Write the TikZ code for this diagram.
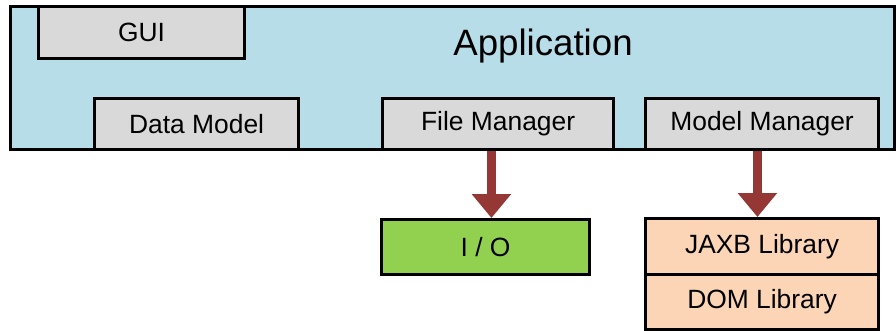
\documentclass[tikz,border=0pt]{standalone}
\usepackage{fontspec}
\setmainfont{Liberation Sans}
\usetikzlibrary{arrows.meta}

\definecolor{appblue}{HTML}{B7DDE8}
\definecolor{modgray}{HTML}{D9D9D9}
\definecolor{iogreen}{HTML}{92D050}
\definecolor{libpeach}{HTML}{FBD5B5}
\definecolor{linkred}{HTML}{953735}

\tikzset{
    box/.style={draw, line width=2.4pt, inner sep=0pt, anchor=north west,
        font=\fontsize{19.8}{22}\selectfont},
    link/.style={draw=linkred, line width=6.75pt,
        -{Triangle[width=28.5pt, length=18pt]}},
}

\begin{document}
\begin{tikzpicture}[x=0.75pt, y=-0.75pt]
\useasboundingbox (0,0) rectangle (896,330);

% the application frame and its parts
\node[box, fill=appblue, minimum width=663pt, minimum height=107.25pt] (app) at (9,5) {};
\node[font=\fontsize{27.5}{30}\selectfont] (apptitle) at (543,46) {Application};
\node[box, fill=modgray, minimum width=154.5pt, minimum height=39pt] (gui) at (37,5) {GUI};
\node[box, fill=modgray, minimum width=153pt, minimum height=38.25pt] (dm) at (93,97) {\raisebox{-1pt}{Data Model}};
\node[box, fill=modgray, minimum width=173.25pt, minimum height=38.25pt] (fm) at (381,97) {\raisebox{-1pt}{File Manager}};
\node[box, fill=modgray, minimum width=174.75pt, minimum height=38.25pt] (mm) at (644,97) {\raisebox{-1pt}{Model Manager}};

% libraries below
\node[box, fill=iogreen, minimum width=156pt, minimum height=41.25pt] (io) at (380,218) {I / O};
\node[box, fill=libpeach, minimum width=174.75pt, minimum height=42pt] (jaxb) at (644,217) {JAXB Library};
\node[box, fill=libpeach, minimum width=174.75pt, minimum height=41.25pt] (dom) at (644,273) {DOM Library};

\draw[link] ([xshift=-5pt]fm.south) -- ([xshift=-5pt]fm.south |- io.north);
\draw[link] ([xshift=-3.5pt]mm.south) -- ([xshift=-3.5pt]mm.south |- jaxb.north);

\end{tikzpicture}
\end{document}
